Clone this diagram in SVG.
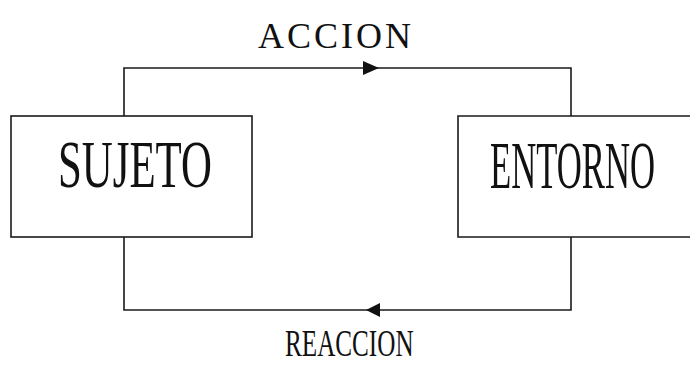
<svg xmlns="http://www.w3.org/2000/svg" width="690" height="365" viewBox="0 0 690 365">
<style>
.box{fill:#fff;stroke:#1a1a1a;stroke-width:1.6}
.wire{fill:none;stroke:#1a1a1a;stroke-width:1.6}
.head{fill:#111}
.lbl{font-family:"Liberation Serif","Times New Roman",serif;fill:#111}
</style>
<rect width="690" height="365" fill="#fff"/>
<g id="connectors">
<path class="wire" d="M124,116 V68 H571 V116"/>
<path class="head" d="M379,68 L363,61 L363,75 Z"/>
<path class="wire" d="M124,237 V310 H571 V237"/>
<path class="head" d="M366,310 L380,303 L380,317 Z"/>
</g>
<g id="label-accion"><text class="lbl" x="258" y="48" font-size="36" letter-spacing="3">ACCION</text></g>
<g id="label-reaccion"><text class="lbl" transform="translate(285,356) scale(0.68,1)" font-size="37">REACCION</text></g>
<g id="sujeto">
<rect class="box" x="11" y="116" width="241" height="121"/>
<text class="lbl" transform="translate(58,187) scale(0.63,1)" font-size="68">SUJETO</text>
</g>
<g id="entorno">
<rect x="458" y="116" width="232" height="121" fill="#fff"/>
<path class="wire" d="M690,116 H458 V237 H690"/>
<text class="lbl" transform="translate(490,188) scale(0.51,1)" font-size="68">ENTORNO</text>
</g>
</svg>
